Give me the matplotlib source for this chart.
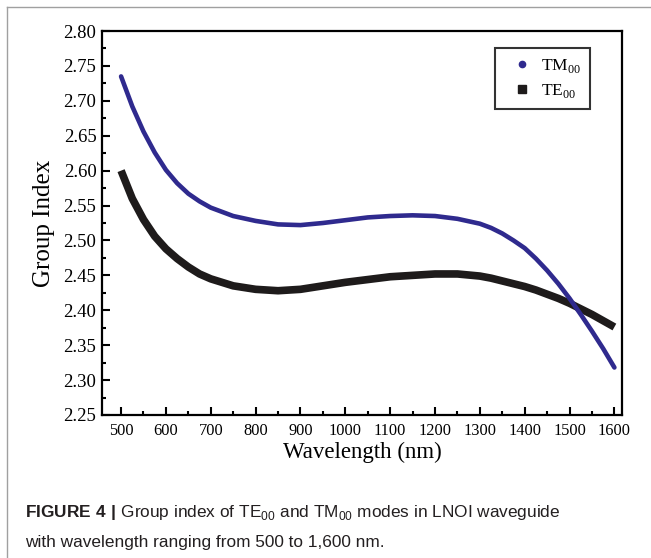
import numpy as np
import matplotlib
matplotlib.use("Agg")
import matplotlib.pyplot as plt
from matplotlib.lines import Line2D
from matplotlib.ticker import MultipleLocator, FormatStrFormatter

plt.rcParams['font.family'] = ['Liberation Serif', 'DejaVu Serif']
plt.rcParams['mathtext.fontset'] = 'custom'
plt.rcParams['mathtext.rm'] = 'Liberation Serif'
plt.rcParams['mathtext.sf'] = 'Liberation Sans'
plt.rcParams['mathtext.bf'] = 'Liberation Sans:bold'

# wavelength (nm) and group index
wavelength = [500, 525, 550, 575, 600, 625, 650, 675, 700, 750, 800, 850, 900,
              950, 1000, 1050, 1100, 1150, 1200, 1250, 1300, 1325, 1350, 1375,
              1400, 1425, 1450, 1475, 1500, 1525, 1550, 1575, 1600]
tm00 = [2.735, 2.692, 2.656, 2.626, 2.601, 2.582, 2.567, 2.556, 2.547, 2.535,
        2.528, 2.523, 2.522, 2.525, 2.529, 2.533, 2.535, 2.536, 2.535, 2.531,
        2.524, 2.518, 2.510, 2.500, 2.489, 2.474, 2.457, 2.438, 2.417, 2.394,
        2.370, 2.345, 2.318]
te00 = [2.600, 2.560, 2.530, 2.506, 2.488, 2.474, 2.462, 2.452, 2.445, 2.435,
        2.430, 2.428, 2.430, 2.435, 2.440, 2.444, 2.448, 2.450, 2.452, 2.452,
        2.449, 2.446, 2.442, 2.438, 2.434, 2.429, 2.423, 2.417, 2.410, 2.402,
        2.394, 2.385, 2.376]

blue = '#2f2a8e'
black = '#1e1b1b'

fig = plt.figure(figsize=(6.51, 5.58), dpi=100)
ax = fig.add_axes([0.1567, 0.2563, 0.7988, 0.6881])

ax.plot(wavelength, te00, color=black, lw=5.5, solid_capstyle='butt',
        solid_joinstyle='round', zorder=2)
ax.plot(wavelength, tm00, color=blue, lw=3.3, solid_capstyle='round',
        solid_joinstyle='round', zorder=3)

ax.set_xlim(457.5, 1617)
ax.set_ylim(2.25, 2.80)
ax.xaxis.set_major_locator(MultipleLocator(100))
ax.xaxis.set_minor_locator(MultipleLocator(50))
ax.yaxis.set_major_locator(MultipleLocator(0.05))
ax.yaxis.set_minor_locator(MultipleLocator(0.025))
ax.yaxis.set_major_formatter(FormatStrFormatter('%.2f'))
ax.tick_params(which='both', direction='in', top=False, right=False, width=1.5)
ax.tick_params(which='major', length=5.5)
ax.tick_params(which='minor', length=3)
ax.tick_params(axis='x', labelsize=11.8, pad=6)
ax.tick_params(axis='y', labelsize=13.5, pad=4)
for s in ax.spines.values():
    s.set_linewidth(1.6)

ax.set_xlabel('Wavelength (nm)', fontsize=16.5, labelpad=2)
ax.set_ylabel('Group Index', fontsize=18, labelpad=6)

handles = [Line2D([], [], ls='none', marker='o', ms=4.5, color=blue),
           Line2D([], [], ls='none', marker='s', ms=5.5, color=black)]
leg = ax.legend(handles, [r'TM$_{\mathrm{00}}$', r'TE$_{\mathrm{00}}$'],
                loc='upper right', bbox_to_anchor=(0.938, 0.956),
                borderaxespad=0, fancybox=False, fontsize=12.5,
                handlelength=2.1, handletextpad=0.05, labelspacing=0.45,
                borderpad=0.5)
leg.get_frame().set_edgecolor('black')
leg.get_frame().set_linewidth(1.5)

# page frame
fig.add_artist(Line2D([7/651, 1], [1-7/558, 1-7/558], color='#a0a0a0', lw=1))
fig.add_artist(Line2D([7/651, 7/651], [0, 1-7/558], color='#a0a0a0', lw=1))

cap = dict(family=['Liberation Sans', 'DejaVu Sans'], fontsize=12.4, color='#231f20')
fig.text(25/651, 1-513/558,
         r'$\mathbf{FIGURE\ 4\ |}$ Group index of TE$_{\mathsf{00}}$ and TM$_{\mathsf{00}}$ modes in LNOI waveguide',
         va='center', ha='left', **cap)
fig.text(25/651, 1-543/558, 'with wavelength ranging from 500 to 1,600 nm.',
         va='center', ha='left', **cap)

fig.savefig('out.png', dpi=100)
